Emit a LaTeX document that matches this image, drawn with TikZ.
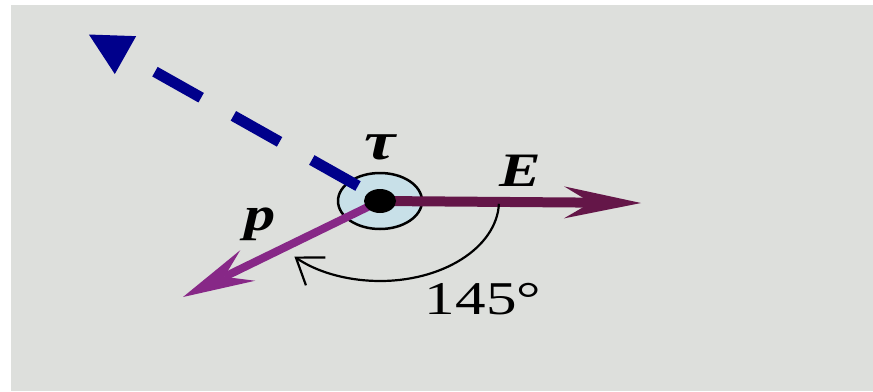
\documentclass[tikz,border=0pt]{standalone}
\usepackage{fontspec}
\setmainfont{Liberation Serif}
\usetikzlibrary{arrows.meta,shapes.geometric,calc}
\definecolor{bg}{RGB}{221,223,220}
\definecolor{navy}{RGB}{0,0,139}
\definecolor{emaroon}{RGB}{100,22,72}
\definecolor{ppurple}{RGB}{135,40,135}
\definecolor{diskc}{RGB}{200,224,232}
\begin{document}
\begin{tikzpicture}[x=1pt,y=-1pt,
  lab/.style={font=\fontsize{48}{48}\selectfont\bfseries\itshape, inner sep=0pt, xscale=1.3}]
\useasboundingbox (0,0) rectangle (873,391);
\fill[white] (0,0) rectangle (873,391);
\fill[bg] (11,5) rectangle (873,391);
\coordinate (o) at (380,201);
\node[draw, line width=2.5pt, fill=diskc, ellipse, minimum width=84pt, minimum height=56pt, inner sep=0pt] (disk) at (o) {};
% E vector
\coordinate (etip) at (641,203);
\coordinate (eb) at ($(etip)!77pt!(o)$);
\coordinate (ei) at ($(etip)!50pt!(o)$);
\coordinate (e1) at ($(eb)!16pt!90:(etip)$);
\coordinate (e2) at ($(eb)!16pt!-90:(etip)$);
\draw[emaroon, line width=10pt] (o) -- (ei);
\fill[emaroon] (etip) -- (e1) -- (ei) -- (e2) -- cycle;
% p vector
\coordinate (ptip) at (183,297);
\coordinate (pb) at ($(ptip)!72pt!(o)$);
\coordinate (pi) at ($(ptip)!46pt!(o)$);
\coordinate (p1) at ($(pb)!17pt!90:(ptip)$);
\coordinate (p2) at ($(pb)!17pt!-90:(ptip)$);
\draw[ppurple, line width=8pt] (o) -- (pi);
\fill[ppurple] (ptip) -- (p1) -- (pi) -- (p2) -- cycle;
% angle arc
\draw[line width=2.2pt, -{Straight Barb[length=24pt,width=34pt]}] (o) ++(2:119 and 80) arc[start angle=2, end angle=136, x radius=119, y radius=80];
\node[fill=black, ellipse, minimum width=32pt, minimum height=24pt, inner sep=0pt] (dot) at (o) {};
% torque direction
\coordinate (bs) at (358,186);
\coordinate (bt) at (88,34);
\draw[navy, line width=11pt, dash pattern=on 53pt off 37pt, -{Triangle[length=43pt,width=40pt]}] (bs) -- (bt);
\node[lab, font=\fontsize{54}{54}\selectfont\bfseries\itshape] (tau) at (380,147) {τ};
\node[lab] (E) at (520,171) {E};
\node[lab] (p) at (260,224) {p};
\node[font=\fontsize{47}{47}\selectfont, inner sep=0pt, xscale=1.3] (ang) at (483,299) {145°};
\end{tikzpicture}
\end{document}
